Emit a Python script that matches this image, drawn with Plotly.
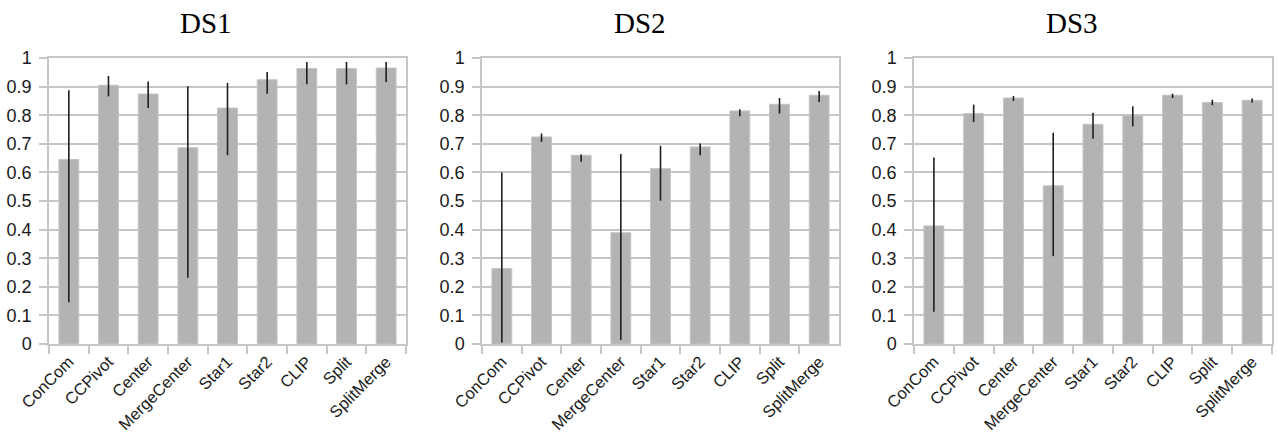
import plotly.graph_objects as go
from plotly.subplots import make_subplots

methods = ["ConCom", "CCPivot", "Center", "MergeCenter", "Star1", "Star2", "CLIP", "Split", "SplitMerge"]
datasets = ["DS1", "DS2", "DS3"]

# mean score per method, with the upper and lower ends of each error bar
ds1_mean = [0.645, 0.905, 0.874, 0.686, 0.825, 0.924, 0.963, 0.963, 0.965]
ds1_high = [0.887, 0.937, 0.918, 0.901, 0.913, 0.951, 0.986, 0.986, 0.986]
ds1_low = [0.146, 0.866, 0.825, 0.232, 0.660, 0.875, 0.908, 0.908, 0.916]

ds2_mean = [0.264, 0.724, 0.660, 0.389, 0.613, 0.689, 0.815, 0.838, 0.870]
ds2_high = [0.600, 0.736, 0.663, 0.664, 0.693, 0.701, 0.821, 0.860, 0.885]
ds2_low = [0.005, 0.707, 0.637, 0.014, 0.501, 0.660, 0.796, 0.806, 0.846]

ds3_mean = [0.413, 0.806, 0.860, 0.553, 0.768, 0.800, 0.870, 0.844, 0.852]
ds3_high = [0.652, 0.837, 0.867, 0.739, 0.809, 0.831, 0.875, 0.854, 0.858]
ds3_low = [0.113, 0.776, 0.850, 0.307, 0.718, 0.761, 0.860, 0.835, 0.844]

y_ticks = [0, 0.1, 0.2, 0.3, 0.4, 0.5, 0.6, 0.7, 0.8, 0.9, 1]
y_tick_text = ["0", "0.1", "0.2", "0.3", "0.4", "0.5", "0.6", "0.7", "0.8", "0.9", "1"]

W, H = 1277, 444
TOP, BOTTOM = 58, 100
panel_px = [(49, 406), (482, 839), (914, 1272)]
title_px = [206, 640, 1072]
title_y_px = 23

series = [
    (ds1_mean, ds1_high, ds1_low),
    (ds2_mean, ds2_high, ds2_low),
    (ds3_mean, ds3_high, ds3_low),
]

fig = make_subplots(rows=1, cols=3)

BAR = "#b3b3b3"
GRID = "#c6c6c6"
TEXT = "#1a1a1a"
SANS = "Liberation Sans, Arial, sans-serif"

for i, (mean, high, low) in enumerate(series):
    plus = [h - m for h, m in zip(high, mean)]
    minus = [m - l for m, l in zip(mean, low)]
    fig.add_trace(
        go.Bar(
            x=methods,
            y=mean,
            marker=dict(color=BAR, line=dict(color="#c4c4c4", width=1)),
            error_y=dict(
                type="data",
                symmetric=False,
                array=plus,
                arrayminus=minus,
                color="#1e1e1e",
                thickness=1.6,
                width=0,
            ),
            showlegend=False,
        ),
        row=1,
        col=i + 1,
    )

plot_h = H - TOP - BOTTOM
for i in range(3):
    x0, x1 = panel_px[i]
    xa = "xaxis" if i == 0 else f"xaxis{i + 1}"
    ya = "yaxis" if i == 0 else f"yaxis{i + 1}"
    fig.layout[xa].update(
        domain=[x0 / W, x1 / W],
        automargin=False,
        tickangle=-45,
        tickson="boundaries",
        ticks="outside",
        ticklen=8,
        tickcolor=GRID,
        tickwidth=1.5,
        showgrid=False,
        showline=True,
        linecolor=GRID,
        linewidth=1.5,
        mirror=True,
        tickfont=dict(family=SANS, size=16.5, color=TEXT),
    )
    fig.layout[ya].update(
        range=[0, 1],
        automargin=False,
        tickvals=y_ticks,
        ticktext=y_tick_text,
        ticks="outside",
        ticklen=8,
        tickcolor=GRID,
        tickwidth=1.5,
        ticklabelstandoff=4,
        showgrid=True,
        gridcolor=GRID,
        gridwidth=1.5,
        zeroline=False,
        showline=True,
        linecolor=GRID,
        linewidth=1.5,
        mirror=True,
        tickfont=dict(family=SANS, size=18, color=TEXT),
    )
    fig.add_annotation(
        text=datasets[i],
        x=title_px[i] / W,
        y=1 + (TOP - title_y_px) / plot_h,
        xref="paper",
        yref="paper",
        xanchor="center",
        yanchor="middle",
        showarrow=False,
        font=dict(family="Liberation Serif, Times New Roman, serif", size=29, color="#000000"),
    )

fig.update_layout(
    template="none",
    width=W,
    height=H,
    margin=dict(l=0, r=0, t=TOP, b=BOTTOM, autoexpand=False),
    paper_bgcolor="white",
    plot_bgcolor="white",
    bargap=0.5,
)

fig.write_html("out.html")
